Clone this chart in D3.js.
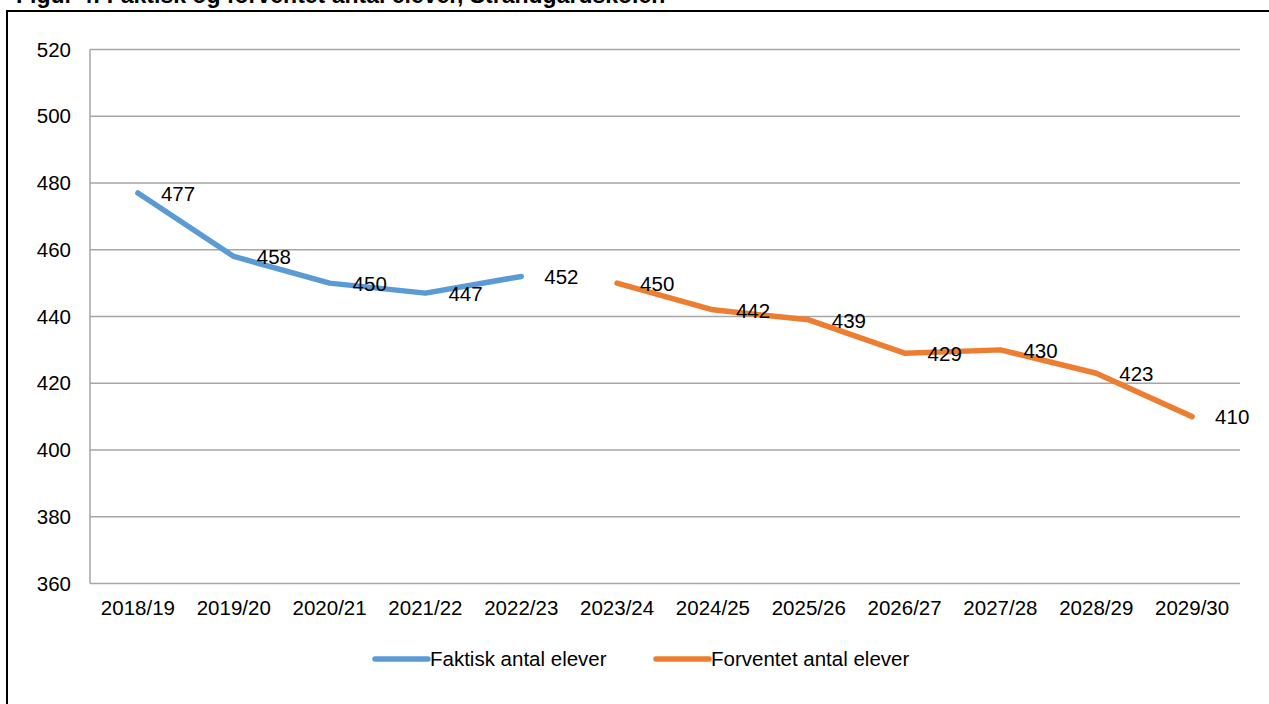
<!DOCTYPE html>
<html>
<head>
<meta charset="utf-8">
<script src="https://cdn.jsdelivr.net/npm/d3@7"></script>
<style>
    body { margin: 0; background: #fff; }
    svg { display: block; }
    text { font-family: Arial, "Liberation Sans", sans-serif; fill: #000; }
    .grid line { stroke: #a6a6a6; stroke-width: 1.5; }
</style>
</head>
<body>
<svg id="chart" width="1269" height="704"></svg>
<script>
// school years on the x axis
var years = ["2018/19", "2019/20", "2020/21", "2021/22", "2022/23", "2023/24",
             "2024/25", "2025/26", "2026/27", "2027/28", "2028/29", "2029/30"];
var actualYears = ["2018/19", "2019/20", "2020/21", "2021/22", "2022/23"];
var actualValues = [477, 458, 450, 447, 452];
var forecastYears = ["2023/24", "2024/25", "2025/26", "2026/27", "2027/28", "2028/29", "2029/30"];
var forecastValues = [450, 442, 439, 429, 430, 423, 410];
var yTicks = [360, 380, 400, 420, 440, 460, 480, 500, 520];
var seriesNames = ["Faktisk antal elever", "Forventet antal elever"];
var seriesColors = ["#5b9bd5", "#ed7d31"];

var svg = d3.select("#chart");

// frame round the figure (runs off the right and bottom)
svg.append("rect")
    .attr("x", 7).attr("y", 11)
    .attr("width", 1300).attr("height", 800)
    .attr("fill", "none")
    .attr("stroke", "#000")
    .attr("stroke-width", 2);

// title, mostly cut off at the top
svg.append("text")
    .attr("x", 16).attr("y", 3)
    .style("font-size", "23px")
    .style("font-weight", "bold")
    .text("Figur 4: Faktisk og forventet antal elever, Strandgårdskolen");

var plotLeft = 90, plotRight = 1240, plotTop = 49.5, plotBottom = 583.5;

var x = d3.scaleBand().domain(years).range([plotLeft, plotRight]);
var y = d3.scaleLinear().domain([360, 520]).range([plotBottom, plotTop]);

// horizontal gridlines
svg.append("g").attr("class", "grid")
    .selectAll("line")
    .data(yTicks)
    .enter().append("line")
    .attr("x1", plotLeft).attr("x2", plotRight)
    .attr("y1", function (d) { return y(d); })
    .attr("y2", function (d) { return y(d); });

// y axis line
svg.append("line")
    .attr("x1", plotLeft).attr("x2", plotLeft)
    .attr("y1", plotTop).attr("y2", plotBottom)
    .attr("stroke", "#a6a6a6").attr("stroke-width", 1.5);

var yAxis = svg.append("g")
    .attr("transform", "translate(" + plotLeft + ",0)")
    .call(d3.axisLeft(y).tickValues(yTicks).tickSize(0).tickPadding(19));
yAxis.select(".domain").remove();
yAxis.selectAll("text").style("font-size", "20.5px").style("font-family", "Arial, 'Liberation Sans', sans-serif");

var xAxis = svg.append("g")
    .attr("transform", "translate(0," + plotBottom + ")")
    .call(d3.axisBottom(x).tickSize(0).tickPadding(17));
xAxis.select(".domain").remove();
xAxis.selectAll("text").style("font-size", "20.5px").style("font-family", "Arial, 'Liberation Sans', sans-serif");

function cx(d) { return x(d) + x.bandwidth() / 2; }

var series = [
    { years: actualYears, values: actualValues, color: seriesColors[0] },
    { years: forecastYears, values: forecastValues, color: seriesColors[1] }
];

var line = d3.line()
    .x(function (d) { return cx(d.year); })
    .y(function (d) { return y(d.value); });

series.forEach(function (s) {
    var pts = s.years.map(function (yr, i) { return { year: yr, value: s.values[i] }; });

    svg.append("path")
        .datum(pts)
        .attr("d", line)
        .attr("fill", "none")
        .attr("stroke", s.color)
        .attr("stroke-width", 5.5)
        .attr("stroke-linecap", "round")
        .attr("stroke-linejoin", "round");

    svg.append("g")
        .selectAll("text")
        .data(pts)
        .enter().append("text")
        .attr("x", function (d) { return cx(d.year) + 23; })
        .attr("y", function (d) { return y(d.value); })
        .attr("dy", ".38em")
        .style("font-size", "20.5px")
        .text(function (d) { return d.value; });
});

// legend
var legendX = [375, 656];
seriesNames.forEach(function (name, i) {
    var g = svg.append("g").attr("transform", "translate(" + legendX[i] + ",659)");
    g.append("line")
        .attr("x1", 0).attr("x2", 53)
        .attr("stroke", seriesColors[i])
        .attr("stroke-width", 5.5)
        .attr("stroke-linecap", "round");
    g.append("text")
        .attr("x", 55)
        .attr("dy", ".36em")
        .style("font-size", "20.5px")
        .text(name);
});
</script>
</body>
</html>
